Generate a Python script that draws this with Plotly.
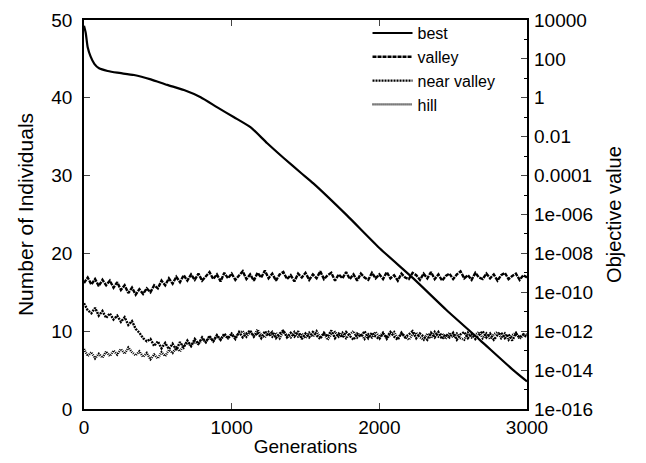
import plotly.graph_objects as go

# ---- data ----
best_gen = [0, 12, 25, 45, 70, 102, 160, 225, 339, 452, 564, 677, 790, 903, 1016,
            1129, 1241, 1354, 1468, 1553, 1779, 2004, 2230, 2456, 2682, 2907, 3000]
best_obj = [5e3, 2.1e3, 4.0e2, 1.3e2, 56, 33, 24, 19.5, 14.8, 8.9, 4.6, 2.5, 1.07, 0.32, 0.10,
            3.0e-2, 4.6e-3, 7.8e-4, 1.4e-4, 4.0e-5, 9.3e-7, 1.8e-8, 5.2e-10, 1.2e-11, 3.5e-13, 1.0e-14, 2.6e-15]

gens = list(range(0, 3001, 25))

valley = [16.2, 16.9, 16.0, 16.7, 15.8, 16.6, 15.9, 16.5, 15.6, 16.3,
          15.3, 15.9, 14.9, 15.6, 14.7, 15.4, 14.8, 15.5, 15.0, 15.9,
          15.5, 16.5, 15.9, 16.8, 16.1, 17.0, 16.3, 17.2, 16.5, 17.3,
          16.6, 17.4, 16.5, 17.1, 17.6, 16.7, 17.3, 16.4, 17.5, 16.8,
          17.4, 16.6, 17.2, 17.7, 16.7, 17.3, 16.5, 17.5, 16.9, 17.8,
          16.8, 17.4, 16.5, 17.3, 17.6, 16.7, 17.2, 16.4, 17.4, 16.9,
          17.5, 16.6, 17.3, 16.8, 17.7, 16.7, 17.2, 17.5, 16.5, 17.3,
          16.8, 17.6, 16.7, 17.3, 16.5, 17.4, 16.9, 16.6, 17.5, 16.8,
          17.3, 16.7, 17.6, 16.8, 17.2, 16.5, 17.4, 16.9, 16.7, 17.5,
          17.2, 16.6, 17.4, 16.8, 17.6, 16.7, 17.3, 16.5, 17.1, 17.4,
          16.7, 17.3, 17.7, 16.8, 17.2, 16.6, 17.5, 16.9, 16.7, 17.4,
          16.8, 17.3, 16.5, 17.2, 17.5, 16.7, 17.1, 17.4, 16.6, 17.2,
          16.9]

near_valley = [13.6, 12.7, 12.3, 13.0, 12.0, 12.6, 11.7, 12.3, 11.5, 12.0,
               11.2, 11.8, 10.8, 11.3, 10.3, 9.8, 9.1, 8.7, 9.0, 8.1,
               8.7, 7.8, 8.5, 7.7, 8.4, 7.6, 8.6, 7.9, 8.8, 8.1,
               9.0, 8.4, 9.2, 8.6, 9.4, 8.7, 9.5, 8.9, 9.7, 9.1,
               9.6, 9.0, 9.9, 9.2, 9.7, 10.1, 9.3, 9.8, 9.1, 10.0,
               9.4, 9.9, 9.1, 9.7, 10.1, 9.2, 9.8, 9.3, 10.0, 9.0,
               9.7, 9.2, 9.9, 9.4, 9.0, 9.8, 9.3, 10.1, 9.1, 9.7,
               9.2, 9.9, 9.4, 8.9, 9.7, 9.3, 10.0, 9.1, 9.8, 9.3,
               9.0, 9.7, 9.2, 9.9, 9.3, 8.9, 9.8, 9.2, 9.6, 10.0,
               9.1, 9.7, 9.3, 8.9, 9.8, 9.2, 9.9, 9.0, 9.6, 9.2,
               9.8, 8.9, 9.6, 9.9, 9.1, 9.7, 9.0, 9.5, 10.0, 9.2,
               9.7, 8.9, 9.5, 9.8, 9.1, 9.6, 8.8, 9.7, 9.2, 9.6,
               9.2]

hill = [7.7, 6.8, 7.3, 6.5, 7.1, 6.6, 7.4, 6.8, 7.5, 7.0,
        7.7, 7.1, 7.9, 7.3, 6.9, 7.4, 6.7, 7.2, 6.4, 7.0,
        6.5, 7.3, 6.8, 7.6, 7.2, 7.9, 7.4, 8.2, 8.5, 8.1,
        8.7, 8.3, 9.0, 8.6, 9.2, 8.7, 9.4, 8.9, 9.5, 9.1,
        9.7, 9.2, 9.8, 10.0, 9.3, 9.9, 9.4, 10.2, 9.5, 9.2,
        9.9, 9.3, 9.8, 9.1, 10.0, 9.4, 9.2, 9.9, 9.3, 9.7,
        9.1, 9.8, 9.3, 10.0, 9.2, 9.7, 8.9, 9.6, 9.9, 9.3,
        9.8, 9.1, 9.6, 10.0, 9.2, 9.7, 9.0, 9.6, 9.2, 9.9,
        9.3, 9.8, 9.0, 9.6, 9.9, 9.1, 9.7, 9.3, 8.9, 9.6,
        9.8, 9.2, 8.9, 9.7, 9.1, 9.9, 9.3, 9.7, 9.0, 9.8,
        9.2, 9.7, 9.1, 8.9, 9.8, 9.2, 9.6, 9.9, 9.1, 9.7,
        9.0, 9.6, 9.9, 9.1, 9.7, 8.9, 9.5, 9.8, 9.0, 9.5,
        9.6]

x_ticks = [0, 1000, 2000, 3000]
y_ticks = [0, 10, 20, 30, 40, 50]
y2_exps = [4, 2, 0, -2, -4, -6, -8, -10, -12, -14, -16]
y2_labels = ["10000", "100", "1", "0.01", "0.0001", "1e-006", "1e-008",
             "1e-010", "1e-012", "1e-014", "1e-016"]
y2_minor_exps = [3, 1, -1, -3, -5, -7, -9, -11, -13, -15]

FONT = "Liberation Sans, Arial, sans-serif"

fig = go.Figure()
fig.add_trace(go.Scatter(x=best_gen, y=best_obj, name="best", yaxis="y2", mode="lines",
                         line=dict(color="black", width=2.2, shape="spline", smoothing=0.6)))
fig.add_trace(go.Scatter(x=gens, y=valley, name="valley", mode="lines",
                         line=dict(color="black", width=2.4, dash="4px,1px")))
fig.add_trace(go.Scatter(x=gens, y=near_valley, name="near valley", mode="lines",
                         line=dict(color="black", width=2.4, dash="2px,1px")))
fig.add_trace(go.Scatter(x=gens, y=hill, name="hill", mode="lines",
                         line=dict(color="black", width=2.4, dash="1px,1px")))

fig.update_layout(
    width=646, height=463,
    margin=dict(l=84, r=119, t=20, b=54),
    paper_bgcolor="white", plot_bgcolor="white",
    font=dict(family=FONT, size=19, color="black"),
    showlegend=True,
    legend=dict(x=0.64, y=1.01, xanchor="left", yanchor="top",
                bgcolor="rgba(0,0,0,0)", font=dict(size=16),
                tracegroupgap=0, itemwidth=40),
    xaxis=dict(range=[0, 3000], tickvals=x_ticks, ticks="inside", ticklen=6,
               tickwidth=1.2, showline=True, linecolor="black", linewidth=1.5,
               mirror="ticks", showgrid=False, zeroline=False, ticklabelstandoff=0,
               automargin=False,
               title=dict(text="Generations", standoff=3, font=dict(size=19))),
    yaxis=dict(range=[0, 50], tickvals=y_ticks, ticks="inside", ticklen=6,
               tickwidth=1.2, showline=True, linecolor="black", linewidth=1.5,
               mirror=True, showgrid=False, zeroline=False, ticklabelstandoff=6,
               automargin=False,
               title=dict(text="Number of Individuals", standoff=12, font=dict(size=21))),
    yaxis2=dict(type="log", range=[-16, 4], overlaying="y", side="right",
                tickvals=[10 ** e for e in y2_exps], ticktext=y2_labels,
                ticks="inside", ticklen=6, tickwidth=1.2, showgrid=False,
                zeroline=False, showline=False, ticklabelstandoff=6,
                automargin=False,
                minor=dict(tickvals=[10 ** e for e in y2_minor_exps], ticks="inside",
                           ticklen=3, tickwidth=1.2, tickcolor="black"),
                title=dict(text="Objective value", standoff=14, font=dict(size=20))),
)

fig.write_html("out.html")
